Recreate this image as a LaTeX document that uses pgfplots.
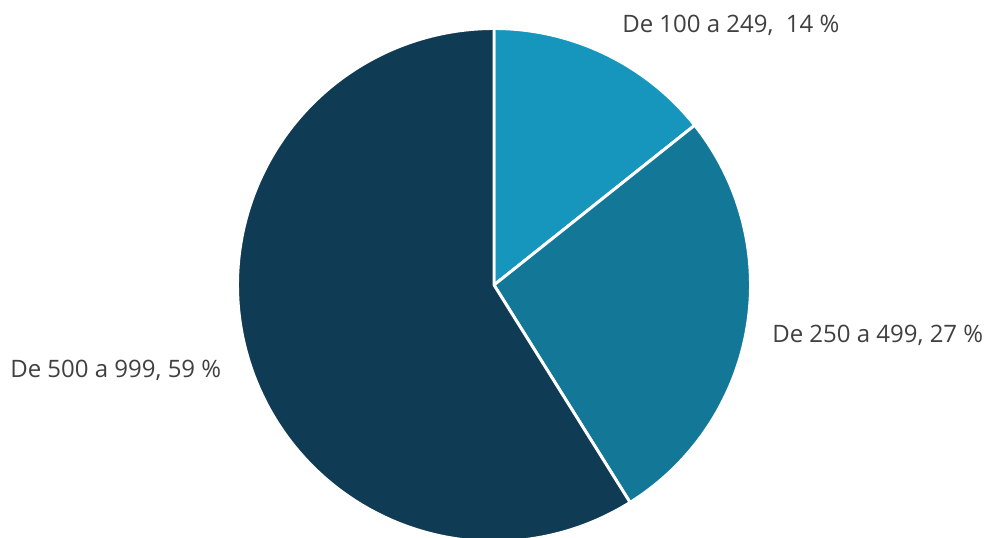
\documentclass[border=0pt]{standalone}
\usepackage{pgfplots}
\pgfplotsset{compat=1.18}
\usepackage{pgfplotstable}
\usepackage{fontspec}
\setmainfont{Open Sans}
\definecolor{cA}{HTML}{1696BD}
\definecolor{cB}{HTML}{137898}
\definecolor{cC}{HTML}{0F3B54}
\definecolor{txt}{HTML}{404040}
\pgfplotstableread{
label value
A 14.3
B 26.8
C 58.9
}\piedata
\pgfplotstablegetelem{0}{value}\of\piedata \let\va\pgfplotsretval
\pgfplotstablegetelem{1}{value}\of\piedata \let\vb\pgfplotsretval
\pgfplotstablegetelem{2}{value}\of\piedata \let\vc\pgfplotsretval
\pgfmathsetmacro{\aA}{90}
\pgfmathsetmacro{\aB}{90-3.6*\va}
\pgfmathsetmacro{\aC}{\aB-3.6*\vb}
\pgfmathsetmacro{\aD}{\aC-3.6*\vc}
\def\cx{494}
\def\cy{253}
\def\r{256.5}
\tikzset{lbl/.style={anchor=west, inner sep=0pt, text=txt, font=\fontsize{18}{22}\selectfont}}
\begin{document}
\begin{tikzpicture}
\begin{axis}[
  width=741pt, height=403.5pt, scale only axis,
  xmin=0, xmax=988, ymin=0, ymax=538,
  axis lines=none, clip=true,
]
\addplot[fill=cA, draw=white, line width=2.2pt, samples=80, domain=\aB:\aA]
  ({\cx+\r*cos(x)},{\cy+\r*sin(x)}) -- (axis cs:\cx,\cy) -- cycle;
\addplot[fill=cB, draw=white, line width=2.2pt, samples=120, domain=\aC:\aB]
  ({\cx+\r*cos(x)},{\cy+\r*sin(x)}) -- (axis cs:\cx,\cy) -- cycle;
\addplot[fill=cC, draw=white, line width=2.2pt, samples=240, domain=\aD:\aC]
  ({\cx+\r*cos(x)},{\cy+\r*sin(x)}) -- (axis cs:\cx,\cy) -- cycle;
\node[lbl] at (axis cs:622,513) {De 100 a 249,\ \ 14 \%};
\node[lbl] at (axis cs:772,203) {De 250 a 499, 27 \%};
\node[lbl] at (axis cs:10,168) {De 500 a 999, 59 \%};
\path (rel axis cs:0,0) rectangle (rel axis cs:1,1);
\end{axis}
\end{tikzpicture}
\end{document}
